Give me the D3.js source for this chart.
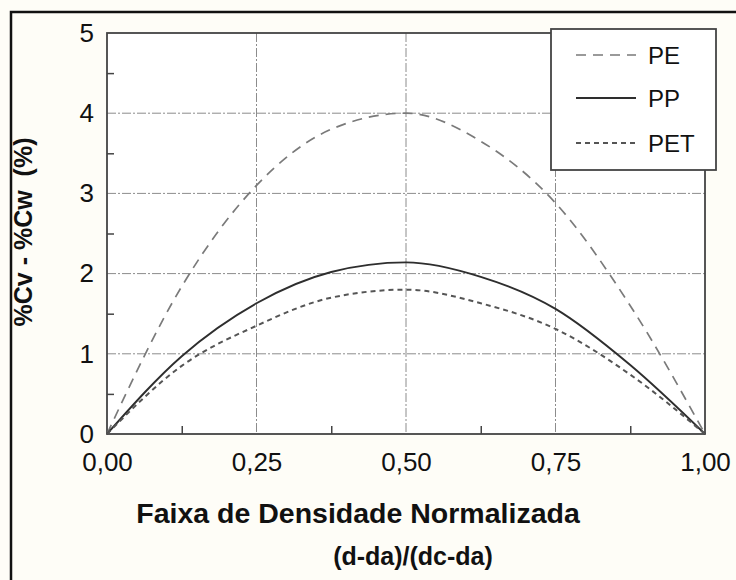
<!DOCTYPE html>
<html>
<head>
<meta charset="utf-8">
<script src="https://cdn.jsdelivr.net/npm/d3@7"></script>
<style>
  html, body { margin: 0; padding: 0; background: #fefdf7; }
  svg { display: block; }
  text { font-family: "Liberation Sans", Arial, Helvetica, sans-serif; fill: #111; }
</style>
</head>
<body>
<svg id="chart" width="736" height="580"></svg>
<script>
// ---- data ----
const xValues = [0, 0.125, 0.25, 0.375, 0.5, 0.625, 0.75, 0.875, 1.0];
const peValues  = [0, 1.84, 3.10, 3.80, 4.00, 3.65, 2.88, 1.60, 0];
const ppValues  = [0, 0.97, 1.63, 2.02, 2.14, 1.96, 1.56, 0.86, 0];
const petValues = [0, 0.85, 1.35, 1.70, 1.80, 1.63, 1.31, 0.74, 0];
const seriesNames = ["PE", "PP", "PET"];
const xTickValues = [0, 0.25, 0.5, 0.75, 1.0];
const xTickLabels = ["0,00", "0,25", "0,50", "0,75", "1,00"];
const xMinorTicks = [0.125, 0.375, 0.625, 0.875];
const yTickValues = [0, 1, 2, 3, 4, 5];
const yTickLabels = ["0", "1", "2", "3", "4", "5"];
const yMinorTicks = [0.5, 1.5, 2.5, 3.5, 4.5];
const xTitle1 = "Faixa de Densidade Normalizada";
const xTitle2 = "(d-da)/(dc-da)";
const yTitle = "%Cv - %Cw\u00a0\u00a0(%)";

const svg = d3.select("#chart");
const L = 107, R = 705, T = 33, B = 434;
const x = d3.scaleLinear().domain([0, 1]).range([L, R]);
const y = d3.scaleLinear().domain([0, 5]).range([B, T]);

// outer frame (left and top edges visible)
svg.append("path")
  .attr("d", `M11,600 L11,12 L760,12`)
  .attr("fill", "none").attr("stroke", "#111").attr("stroke-width", 2.5);

// plot background
svg.append("rect").attr("x", L).attr("y", T).attr("width", R - L).attr("height", B - T).attr("fill", "#fff");

// grid
const grid = svg.append("g").attr("stroke", "#8c8c8c").attr("stroke-width", 1).attr("stroke-dasharray", "9,2,2,2");
grid.selectAll("line.gx").data(xTickValues.slice(1, -1)).join("line")
  .attr("x1", d => x(d)).attr("x2", d => x(d)).attr("y1", T).attr("y2", B);
grid.selectAll("line.gy").data(yTickValues.slice(1, -1)).join("line")
  .attr("x1", L).attr("x2", R).attr("y1", d => y(d)).attr("y2", d => y(d));

// axes
const xAxis = d3.axisBottom(x).tickValues(xTickValues).tickFormat((d, i) => xTickLabels[i]).tickSize(0).tickPadding(19);
const gx = svg.append("g").attr("transform", `translate(0,${B})`).call(xAxis);
gx.select(".domain").remove();
gx.selectAll("text").attr("font-size", 26).attr("fill", "#111").attr("dy", "0.71em")
  .attr("font-family", "Liberation Sans, Arial, sans-serif");

const xMinor = d3.axisTop(x).tickValues(xMinorTicks).tickSize(8).tickFormat("");
const gxm = svg.append("g").attr("transform", `translate(0,${B})`).call(xMinor);
gxm.select(".domain").remove();
gxm.selectAll("line").attr("stroke", "#444").attr("stroke-width", 1.5);

const yAxis = d3.axisLeft(y).tickValues(yTickValues).tickFormat((d, i) => yTickLabels[i]).tickSize(0).tickPadding(13);
const gy = svg.append("g").attr("transform", `translate(${L},0)`).call(yAxis);
gy.select(".domain").remove();
gy.selectAll("text").attr("font-size", 26).attr("fill", "#111")
  .attr("font-family", "Liberation Sans, Arial, sans-serif");

const yMinor = d3.axisRight(y).tickValues(yMinorTicks).tickSize(7).tickFormat("");
const gym = svg.append("g").attr("transform", `translate(${L},0)`).call(yMinor);
gym.select(".domain").remove();
gym.selectAll("line").attr("stroke", "#444").attr("stroke-width", 1.5);

// plot frame
svg.append("rect").attr("x", L).attr("y", T).attr("width", R - L).attr("height", B - T)
  .attr("fill", "none").attr("stroke", "#444").attr("stroke-width", 1.8);

// series
const styles = {
  PE:  { stroke: "#7a7a7a", width: 1.7, dash: "10,7" },
  PP:  { stroke: "#2e2e2e", width: 1.9, dash: null },
  PET: { stroke: "#555555", width: 2.0, dash: "5,4" }
};
const seriesData = { PE: peValues, PP: ppValues, PET: petValues };
const line = d3.line().x(d => x(d[0])).y(d => y(d[1])).curve(d3.curveMonotoneX);
seriesNames.forEach(name => {
  const pts = xValues.map((v, i) => [v, seriesData[name][i]]);
  const s = styles[name];
  svg.append("path").datum(pts).attr("d", line)
    .attr("fill", "none").attr("stroke", s.stroke).attr("stroke-width", s.width)
    .attr("stroke-dasharray", s.dash);
});

// legend
const lg = svg.append("g");
lg.append("rect").attr("x", 551).attr("y", 29).attr("width", 165).attr("height", 141)
  .attr("fill", "#fff").attr("stroke", "#444").attr("stroke-width", 1.8);
const legendY = [55, 98, 143];
seriesNames.forEach((name, i) => {
  const s = styles[name];
  lg.append("line").attr("x1", 576).attr("x2", 636).attr("y1", legendY[i]).attr("y2", legendY[i])
    .attr("stroke", s.stroke).attr("stroke-width", s.width).attr("stroke-dasharray", s.dash);
  lg.append("text").attr("x", 648).attr("y", legendY[i] + 9).attr("font-size", 24).text(name);
});

// titles
svg.append("text").attr("x", 358).attr("y", 523).attr("text-anchor", "middle")
  .attr("font-size", 28.5).attr("font-weight", "bold").text(xTitle1);
svg.append("text").attr("x", 413).attr("y", 565).attr("text-anchor", "middle")
  .attr("font-size", 25).attr("font-weight", "bold").text(xTitle2);
svg.append("text").attr("transform", "translate(32,232) rotate(-90)").attr("text-anchor", "middle")
  .attr("font-size", 25).attr("font-weight", "bold").text(yTitle);
</script>
</body>
</html>
